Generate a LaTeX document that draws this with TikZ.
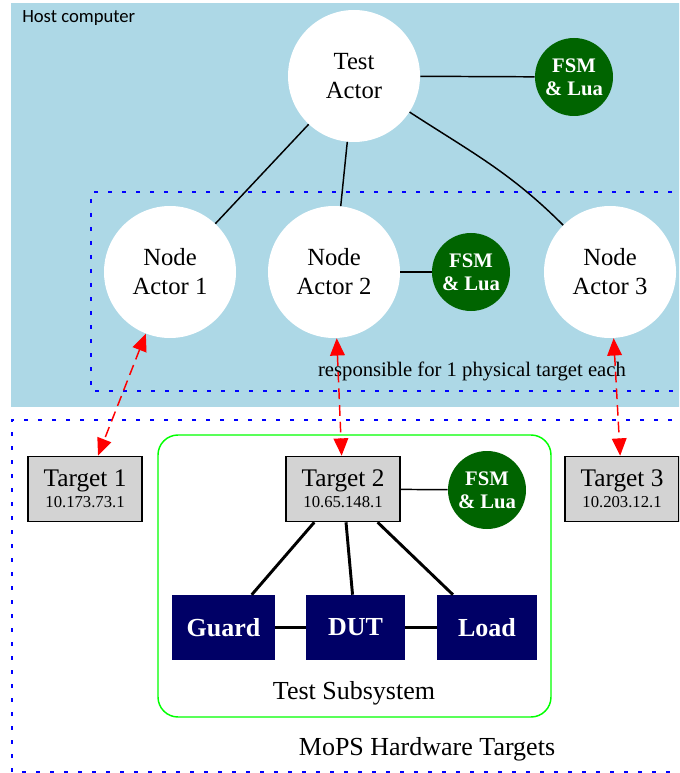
\documentclass[tikz,border=0pt]{standalone}
\usepackage{fontspec}
\setmainfont{Liberation Serif}
\newfontfamily\hostfont{Carlito}
\usetikzlibrary{arrows.meta}

\definecolor{hostblue}{HTML}{ADD8E6}
\definecolor{fsmgreen}{HTML}{006400}
\definecolor{targetgray}{HTML}{D3D3D3}
\definecolor{hwnavy}{HTML}{000066}
\definecolor{subsysgreen}{HTML}{00FF00}

\begin{document}
\begin{tikzpicture}[x=0.75pt,y=-0.75pt,
  actor/.style={circle, fill=white, minimum size=99pt, inner sep=0pt, align=center,
    font=\fontsize{18.5}{21.75}\selectfont},
  fsm/.style={circle, fill=fsmgreen, minimum size=58.5pt, inner sep=0pt, text=white,
    align=center, font=\bfseries\fontsize{15.5}{17}\selectfont},
  target/.style={draw=black, line width=1.2pt, fill=targetgray, minimum width=85.5pt,
    minimum height=48.75pt, inner sep=0pt, align=center,
    font=\fontsize{19}{16}\selectfont},
  hw/.style={fill=hwnavy, text=white, minimum height=48.75pt, inner sep=0pt,
    font=\bfseries\fontsize{19.5}{22}\selectfont},
  link/.style={line width=1.1pt},
  buslink/.style={line width=2.2pt},
  phys/.style={red, line width=1.1pt, dash pattern=on 8pt off 4.5pt,
    {Triangle[length=13pt,width=11pt]}-{Triangle[length=13pt,width=11pt]}},
  cluster/.style={blue, line width=1.3pt, dash pattern=on 2.8pt off 7.7pt},
  caption/.style={font=\fontsize{19.5}{22}\selectfont}
]
\useasboundingbox (0,0) rectangle (679,773);
\clip (0,0) rectangle (679,773);

% host computer area
\fill[hostblue] (11,3) rectangle (700,407);
\node[anchor=west, inner sep=0pt, font=\hostfont\fontsize{14}{16}\selectfont] (hostlabel) at (22,18) {Host computer};

% node actor cluster
\draw[cluster] (700,192) -- (91,192) -- (91,391) -- (700,391);
\node[font=\fontsize{15.5}{18}\selectfont] (resp) at (472,371) {responsible for 1 physical target each};

% hardware targets cluster
\draw[cluster] (700,420) -- (12,420) -- (12,772) -- (700,772);
\node[caption] (mops) at (427,749) {MoPS Hardware Targets};

% test subsystem
\draw[subsysgreen, line width=1.1pt, rounded corners=15pt] (158,435) rectangle (551,717);
\node[caption] (subsys) at (354,693) {Test Subsystem};

% actors
\node[actor] (ta) at (354,76) {Test\\Actor};
\node[fsm] (fsm1) at (574,77) {FSM\\\& Lua};
\node[actor] (na1) at (170,272) {Node\\Actor 1};
\node[actor] (na2) at (334,272) {Node\\Actor 2};
\node[fsm] (fsm2) at (471,272) {FSM\\\& Lua};
\node[actor] (na3) at (610,272) {Node\\Actor 3};

% targets
\node[target] (t1) at (85,489) {Target 1\\{\fontsize{12.5}{14}\selectfont 10.173.73.1}};
\node[target] (t2) at (343,489) {Target 2\\{\fontsize{12.5}{14}\selectfont 10.65.148.1}};
\node[fsm] (fsm3) at (487,490) {FSM\\\& Lua};
\node[target] (t3) at (622,489) {Target 3\\{\fontsize{12.5}{14}\selectfont 10.203.12.1}};

% hardware under test
\node[hw, minimum width=77.25pt] (guard) at (223.5,627.5) {Guard};
\node[hw, minimum width=74.25pt] (dut) at (355.5,627.5) {DUT};
\node[hw, minimum width=75pt] (load) at (487,627.5) {Load};

% actor links
\draw[link] (ta) -- (fsm1);
\draw[link] (ta) -- (na1);
\draw[link] (ta) -- (na2);
\draw[link] (ta) to[out=-33, in=135] (na3);
\draw[link] (na2) -- (fsm2);

% physical links
\draw[phys] (na1) -- (t1);
\draw[phys] (na2) -- (t2);
\draw[phys] (na3) -- (t3);

% subsystem links
\draw[link] (t2) -- (fsm3);
\draw[buslink] (t2) -- (guard);
\draw[buslink] (t2) -- (dut);
\draw[buslink] (t2) -- (load);
\draw[buslink] (guard) -- (dut);
\draw[buslink] (dut) -- (load);
\end{tikzpicture}
\end{document}
